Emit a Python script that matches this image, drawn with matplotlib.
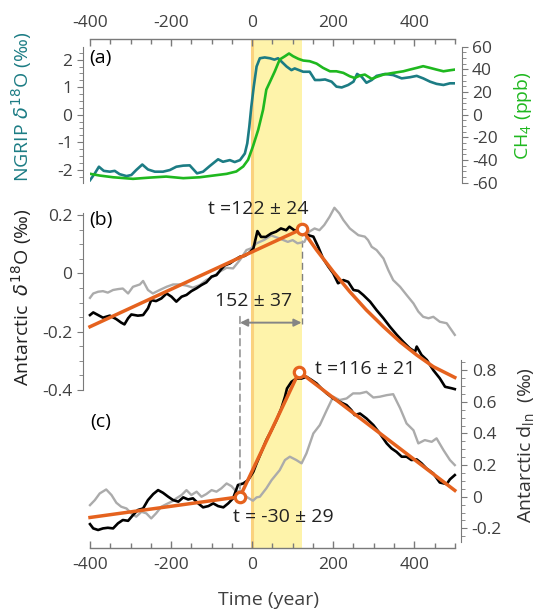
import numpy as np
import matplotlib
matplotlib.use('Agg')
import matplotlib.pyplot as plt
from matplotlib.patches import ConnectionPatch
from matplotlib.ticker import MultipleLocator, FuncFormatter

plt.rcParams['font.family'] = ['Open Sans', 'DejaVu Sans']
plt.rcParams['axes.unicode_minus'] = False
plt.rcParams['mathtext.fontset'] = 'dejavusans'

# ---- (a) NGRIP d18O and CH4 ----
ngrip_t = [-400, -388, -378, -366, -351, -339, -327, -310, -298, -286, -271, -257, -240, -220, -203,
           -187, -170, -154, -136, -121, -105, -84, -72, -55, -43, -30, -18, -12, -7, -2,
           4, 11, 19, 31, 44, 55, 64, 85, 97, 105, 126, 142, 155, 167, 180,
           196, 208, 221, 237, 250, 259, 270, 282, 295, 307, 328, 348, 369, 389, 406,
           422, 439, 455, 472, 488, 500]
ngrip_v = [-2.38, -2.13, -1.89, -2.04, -2.07, -2.04, -2.16, -2.23, -2.19, -2.01, -1.81, -1.99, -2.07, -2.07, -2.01,
           -1.89, -1.85, -1.84, -2.13, -2.07, -1.87, -1.62, -1.71, -1.65, -1.72, -1.65, -1.41, -1.04, -0.44, 0.29,
           1.02, 1.75, 2.05, 2.08, 2.05, 2.0, 2.05, 1.75, 1.62, 1.68, 1.56, 1.56, 1.26, 1.26, 1.28,
           1.2, 1.02, 0.99, 1.08, 1.2, 1.48, 1.38, 1.16, 1.26, 1.41, 1.48, 1.44, 1.32, 1.36, 1.41,
           1.32, 1.2, 1.12, 1.08, 1.14, 1.14]

ch4_t = [-399, -376, -343, -294, -253, -212, -170, -129, -96, -63, -39, -22, -10, 2, 15,
         27, 35, 44, 56, 68, 81, 91, 101, 114, 126, 142, 159, 175, 192, 208,
         225, 241, 253, 266, 278, 295, 307, 324, 348, 373, 389, 406, 422, 439, 455,
         472, 488, 500]
ch4_v = [-52.2, -53.7, -55.2, -56.6, -55.5, -54.6, -56.0, -55.2, -53.7, -52.2, -50.1, -45.7, -39.8, -28.0, -13.3,
         4.4, 22.1, 29.0, 38.3, 48.7, 51.6, 54.0, 51.6, 49.3, 47.8, 47.2, 45.1, 41.3, 38.3, 38.3,
         36.9, 33.9, 32.4, 34.5, 35.4, 31.6, 33.3, 35.4, 36.9, 38.3, 39.8, 41.3, 42.8, 41.3, 39.8,
         38.3, 39.2, 39.8]

# ---- (b) Antarctic d18O ----
d18o_t = [-400, -392, -380, -368, -351, -335, -323, -315, -306, -298, -282, -269, -257, -249, -237,
          -224, -211, -199, -187, -174, -162, -150, -137, -125, -113, -100, -88, -76, -67, -55,
          -43, -30, -18, -6, 3, 8, 13, 22, 34, 47, 59, 71, 84, 92, 104,
          116, 129, 138, 151, 163, 175, 188, 200, 212, 225, 237, 250, 262, 274, 291,
          307, 324, 340, 357, 373, 389, 402, 406, 418, 431, 447, 463, 476, 492, 500]
d18o_v = [-0.143, -0.134, -0.143, -0.152, -0.145, -0.157, -0.169, -0.175, -0.154, -0.141, -0.145, -0.143, -0.12, -0.092, -0.095,
          -0.086, -0.069, -0.08, -0.097, -0.08, -0.074, -0.061, -0.051, -0.04, -0.031, -0.011, -0.006, 0.015, 0.028, 0.034,
          0.046, 0.057, 0.06, 0.072, 0.085, 0.115, 0.145, 0.125, 0.125, 0.137, 0.143, 0.154, 0.148, 0.16, 0.148,
          0.145, 0.137, 0.131, 0.126, 0.091, 0.051, 0.023, 0.0, -0.034, -0.023, -0.029, -0.057, -0.06, -0.074, -0.097,
          -0.126, -0.154, -0.183, -0.211, -0.235, -0.257, -0.269, -0.251, -0.28, -0.297, -0.332, -0.36, -0.389, -0.394, -0.397]

d18o_gray_t = [-400, -392, -380, -368, -356, -343, -331, -319, -306, -294, -277, -269, -257, -245, -228,
               -211, -195, -178, -162, -146, -129, -113, -96, -80, -63, -47, -30, -14, -2, 11,
               30, 47, 67, 88, 100, 112, 129, 141, 154, 166, 178, 191, 203, 215,
               225, 241, 262, 278, 286, 295, 307, 324, 336, 348, 365, 381, 398, 410, 422,
               435, 447, 463, 480, 500]
d18o_gray_v = [-0.084, -0.069, -0.063, -0.061, -0.066, -0.057, -0.054, -0.052, -0.069, -0.046, -0.038, -0.026, -0.057, -0.069, -0.057,
               -0.046, -0.038, -0.038, -0.042, -0.049, -0.04, -0.023, -0.011, 0.006, 0.019, 0.017, 0.046, 0.08, 0.086, 0.103,
               0.115, 0.13, 0.12, 0.108, 0.114, 0.103, 0.108, 0.143, 0.154, 0.148, 0.166, 0.194, 0.225, 0.206,
               0.183, 0.154, 0.131, 0.126, 0.114, 0.091, 0.08, 0.051, 0.011, -0.023, -0.046, -0.074, -0.103, -0.131, -0.149,
               -0.154, -0.149, -0.166, -0.171, -0.211]

d18o_fit_t = [-400, 122, 159, 200, 241, 282, 324, 365, 406, 447, 500]
d18o_fit_v = [-0.183, 0.152, 0.08, 0.006, -0.063, -0.126, -0.183, -0.235, -0.28, -0.32, -0.357]
d18o_break = (122, 0.152)

# ---- (c) Antarctic d_ln ----
dln_t = [-400, -392, -380, -368, -356, -343, -331, -319, -306, -294, -282, -269, -257, -244, -232,
         -220, -207, -195, -182, -170, -158, -146, -133, -121, -108, -96, -84, -71, -59, -47,
         -35, -22, -10, 3, 11, 23, 35, 48, 60, 72, 81, 86, 97, 109, 122,
         134, 147, 159, 171, 184, 200, 216, 233, 245, 253, 266, 282, 299, 315, 332,
         344, 356, 369, 381, 393, 406, 418, 430, 447, 463, 480, 488, 500]
dln_v = [-0.173, -0.2, -0.21, -0.2, -0.196, -0.2, -0.168, -0.147, -0.152, -0.116, -0.084, -0.074, -0.021, 0.017, 0.042,
         0.025, 0.0, -0.021, -0.031, -0.004, -0.017, -0.01, -0.042, -0.067, -0.059, -0.042, -0.059, -0.067, -0.042, -0.01,
         0.074, 0.084, 0.105, 0.158, 0.211, 0.284, 0.358, 0.421, 0.484, 0.558, 0.632, 0.684, 0.726, 0.747, 0.747,
         0.758, 0.737, 0.716, 0.684, 0.653, 0.621, 0.6, 0.579, 0.547, 0.516, 0.526, 0.495, 0.453, 0.4, 0.337,
         0.305, 0.284, 0.253, 0.253, 0.232, 0.236, 0.211, 0.179, 0.147, 0.09, 0.08, 0.11, 0.137]

dln_gray_t = [-400, -388, -376, -360, -347, -335, -323, -310, -298, -286, -273, -261, -249, -237, -224,
              -211, -199, -187, -174, -162, -150, -137, -125, -113, -100, -88, -76, -63, -51, -39,
              -26, -14, 2, 11, 19, 35, 48, 68, 81, 93, 109, 122, 134, 151, 167,
              184, 200, 216, 233, 249, 266, 282, 299, 315, 332, 348, 365, 381, 398, 410,
              426, 443, 455, 472, 488, 500]
dln_gray_v = [-0.053, -0.021, 0.021, 0.046, 0.011, -0.038, -0.063, -0.074, -0.105, -0.126, -0.095, -0.105, -0.137, -0.105, -0.063,
              -0.046, -0.031, -0.01, 0.011, 0.042, 0.011, 0.032, 0.0, 0.017, 0.042, 0.032, 0.053, 0.084, 0.067, 0.032,
              0.036, 0.0, -0.025, -0.004, 0.0, 0.053, 0.105, 0.168, 0.232, 0.253, 0.232, 0.211, 0.274, 0.4, 0.453,
              0.547, 0.632, 0.611, 0.621, 0.653, 0.653, 0.663, 0.627, 0.632, 0.642, 0.648, 0.56, 0.463, 0.42, 0.337,
              0.358, 0.347, 0.369, 0.295, 0.232, 0.2]

dln_fit_t = [-400, -30, 116, 500]
dln_fit_v = [-0.131, 0.0, 0.79, 0.04]
dln_break_t = [-30, 116]
dln_break_v = [0.0, 0.79]

ramp_span = (0, 122)
lag_arrow = (-30, 122)

# ---- style ----
ORANGE = '#E5621E'
TEAL = '#1C7C84'
GREEN = '#1FB81F'
GRAY = '#ABABAB'
BAND = '#FEF3AA'
BAND_EDGE = '#FAD27E'
SPINE = '#7A7A7A'
TXT = '#404040'
TICK_FS = 12.5
LAB_FS = 14
ANN_FS = 14

W, H = 539, 611
PT = 72 / 100  # points per pixel


def box(x0, y0, x1, y1):
    return [x0 / W, 1 - y1 / H, (x1 - x0) / W, (y1 - y0) / H]


def fx(px):
    return px / W


def fy(py):
    return 1 - py / H


def num_fmt(v, pos):
    if abs(v) < 1e-9:
        return '0'
    return f'{v:g}'


fig = plt.figure(figsize=(W / 100, H / 100), dpi=100)
XL, XR = 90, 454.8

# background axis: shared time axis top and bottom, shaded interval
ax0 = fig.add_axes(box(XL, 39.3, XR, 548.3))
ax0.set_xlim(-400, 500)
ax0.set_ylim(0, 1)
ax0.patch.set_visible(False)
for s in ['left', 'right']:
    ax0.spines[s].set_visible(False)
for s in ['top', 'bottom']:
    ax0.spines[s].set_color(SPINE)
    ax0.spines[s].set_linewidth(1.0)
ax0.set_yticks([])
ax0.xaxis.set_major_locator(MultipleLocator(200))
ax0.xaxis.set_minor_locator(MultipleLocator(50))
ax0.xaxis.set_major_formatter(FuncFormatter(num_fmt))
ax0.tick_params(axis='x', which='both', top=True, bottom=True, labeltop=True, labelbottom=True,
                direction='in', color=SPINE, labelcolor=TXT, labelsize=TICK_FS, width=1.0)
ax0.tick_params(axis='x', which='major', length=5 * PT * 1.4, pad=6)
ax0.tick_params(axis='x', which='minor', length=3.5 * PT * 1.4)
ax0.axvspan(*ramp_span, color=BAND, lw=0, zorder=0)
ax0.axvline(ramp_span[0], color=BAND_EDGE, lw=2.2, zorder=0.5)
fig.text(fx(268), fy(600), 'Time (year)', ha='center', va='center', fontsize=LAB_FS, color=TXT)

# (a)
ax_a = fig.add_axes(box(XL, 46.7, XR, 182.7))
ax_a.patch.set_visible(False)
ax_a.set_xlim(-400, 500)
ax_a.set_ylim(-2.47, 2.47)
for s in ['top', 'bottom', 'right']:
    ax_a.spines[s].set_visible(False)
ax_a.spines['left'].set_position(('outward', 7 * PT))
ax_a.spines['left'].set_color(SPINE)
ax_a.set_xticks([])
ax_a.yaxis.set_major_locator(MultipleLocator(1))
ax_a.yaxis.set_minor_locator(MultipleLocator(0.25))
ax_a.tick_params(axis='y', which='both', direction='out', color=SPINE, labelcolor=TXT, labelsize=TICK_FS)
ax_a.tick_params(axis='y', which='major', length=4.5, pad=3)
ax_a.tick_params(axis='y', which='minor', length=2.8)
ax_a.plot(ngrip_t, ngrip_v, color=TEAL, lw=1.9, zorder=3)

ax_a2 = ax_a.twinx()
ax_a2.patch.set_visible(False)
ax_a2.set_ylim(-60, 60)
for s in ['top', 'bottom', 'left']:
    ax_a2.spines[s].set_visible(False)
ax_a2.spines['right'].set_position(('outward', 6.7 * PT))
ax_a2.spines['right'].set_color(SPINE)
ax_a2.yaxis.set_major_locator(MultipleLocator(20))
ax_a2.yaxis.set_minor_locator(MultipleLocator(5))
ax_a2.tick_params(axis='y', which='both', direction='out', color=SPINE, labelcolor=TXT, labelsize=TICK_FS)
ax_a2.tick_params(axis='y', which='major', length=4.5, pad=3)
ax_a2.tick_params(axis='y', which='minor', length=2.8)
ax_a2.plot(ch4_t, ch4_v, color=GREEN, lw=1.9, zorder=2)

fig.text(fx(100), fy(58), '(a)', ha='center', va='center', fontsize=ANN_FS, color='black')
fig.text(fx(21.7), fy(107), r'NGRIP $\delta^{18}$O (‰)', rotation=90, ha='center', va='center',
         fontsize=LAB_FS, color=TEAL)
fig.text(fx(523), fy(116), r'CH$_\mathregular{4}$ (ppb)', rotation=90, ha='center', va='center',
         fontsize=LAB_FS, color=GREEN)

# (b)
ax_b = fig.add_axes(box(XL, 213.3, XR, 390))
ax_b.patch.set_visible(False)
ax_b.set_xlim(-400, 500)
ax_b.set_ylim(-0.4, 0.206)
for s in ['top', 'bottom', 'right']:
    ax_b.spines[s].set_visible(False)
ax_b.spines['left'].set_position(('outward', 7 * PT))
ax_b.spines['left'].set_color(SPINE)
ax_b.set_xticks([])
ax_b.yaxis.set_major_locator(MultipleLocator(0.2))
ax_b.yaxis.set_minor_locator(MultipleLocator(0.05))
ax_b.yaxis.set_major_formatter(FuncFormatter(num_fmt))
ax_b.tick_params(axis='y', which='both', direction='out', color=SPINE, labelcolor=TXT, labelsize=TICK_FS)
ax_b.tick_params(axis='y', which='major', length=4.5, pad=3)
ax_b.tick_params(axis='y', which='minor', length=2.8)
ax_b.plot(d18o_gray_t, d18o_gray_v, color=GRAY, lw=1.7, zorder=2, clip_on=False)
ax_b.plot(d18o_t, d18o_v, color='black', lw=1.9, zorder=3, clip_on=False)
ax_b.plot(d18o_fit_t, d18o_fit_v, color=ORANGE, lw=2.5, zorder=4, clip_on=False)
ax_b.plot([d18o_break[0], d18o_break[0]], [d18o_break[1], -0.172], color='#808080', lw=1.0,
          ls=(0, (5, 3)), zorder=1, clip_on=False)
ax_b.plot([d18o_break[0]], [d18o_break[1]], 'o', ms=7.5, mfc='white', mec=ORANGE, mew=2.3,
          zorder=6, clip_on=False)
ax_b.annotate('', xy=(lag_arrow[0], -0.169), xytext=(lag_arrow[1], -0.169),
              arrowprops=dict(arrowstyle='<|-|>', color='#858585', lw=1.4, mutation_scale=11,
                              shrinkA=0, shrinkB=0))
ax_b.text(4, -0.095, '152 ± 37', ha='center', va='center', fontsize=ANN_FS, color='#222222')
ax_b.text(15, 0.222, 't =122 ± 24', ha='center', va='center', fontsize=ANN_FS, color='#222222')
fig.text(fx(101), fy(220.5), '(b)', ha='center', va='center', fontsize=ANN_FS, color='black')
fig.text(fx(21.7), fy(297), r'Antarctic  $\delta^{18}$O (‰)', rotation=90, ha='center', va='center',
         fontsize=LAB_FS, color='#222222')

# (c)
ax_c = fig.add_axes(box(XL, 360, XR, 541.7))
ax_c.patch.set_visible(False)
ax_c.set_xlim(-400, 500)
ax_c.set_ylim(-0.284, 0.864)
for s in ['top', 'bottom', 'left']:
    ax_c.spines[s].set_visible(False)
ax_c.spines['right'].set_position(('outward', 6.5 * PT))
ax_c.spines['right'].set_color(SPINE)
ax_c.set_xticks([])
ax_c.yaxis.tick_right()
ax_c.yaxis.set_major_locator(MultipleLocator(0.2))
ax_c.yaxis.set_minor_locator(MultipleLocator(0.05))
ax_c.yaxis.set_major_formatter(FuncFormatter(num_fmt))
ax_c.tick_params(axis='y', which='both', direction='out', color=SPINE, labelcolor=TXT, labelsize=TICK_FS)
ax_c.tick_params(axis='y', which='major', length=4.5, pad=3)
ax_c.tick_params(axis='y', which='minor', length=2.8)
ax_c.plot(dln_gray_t, dln_gray_v, color=GRAY, lw=1.7, zorder=2, clip_on=False)
ax_c.plot(dln_t, dln_v, color='black', lw=1.9, zorder=3, clip_on=False)
ax_c.plot(dln_fit_t, dln_fit_v, color=ORANGE, lw=2.5, zorder=4, clip_on=False)
ax_c.plot(dln_break_t, dln_break_v, 'o', ms=7.5, mfc='white', mec=ORANGE, mew=2.3,
          zorder=6, clip_on=False)
ax_c.text(155, 0.805, 't =116 ± 21', ha='left', va='center', fontsize=ANN_FS, color='#222222')
ax_c.text(77, -0.13, 't = -30 ± 29', ha='center', va='center', fontsize=ANN_FS, color='#222222')
fig.text(fx(101), fy(421.7), '(c)', ha='center', va='center', fontsize=ANN_FS, color='black')
fig.text(fx(526.7), fy(445), r'Antarctic d$_\mathregular{ln}$  (‰)', rotation=90, ha='center',
         va='center', fontsize=LAB_FS, color='#333333')

# dashed guide from the lag arrow down to the d_ln onset
guide = ConnectionPatch(xyA=(lag_arrow[0], -0.148), coordsA=ax_b.transData,
                        xyB=(dln_break_t[0], dln_break_v[0]), coordsB=ax_c.transData,
                        color='#808080', lw=1.0, ls=(0, (5, 3)), shrinkA=0, shrinkB=5.5, zorder=1)
fig.add_artist(guide)

fig.savefig('out.png', dpi=100)
